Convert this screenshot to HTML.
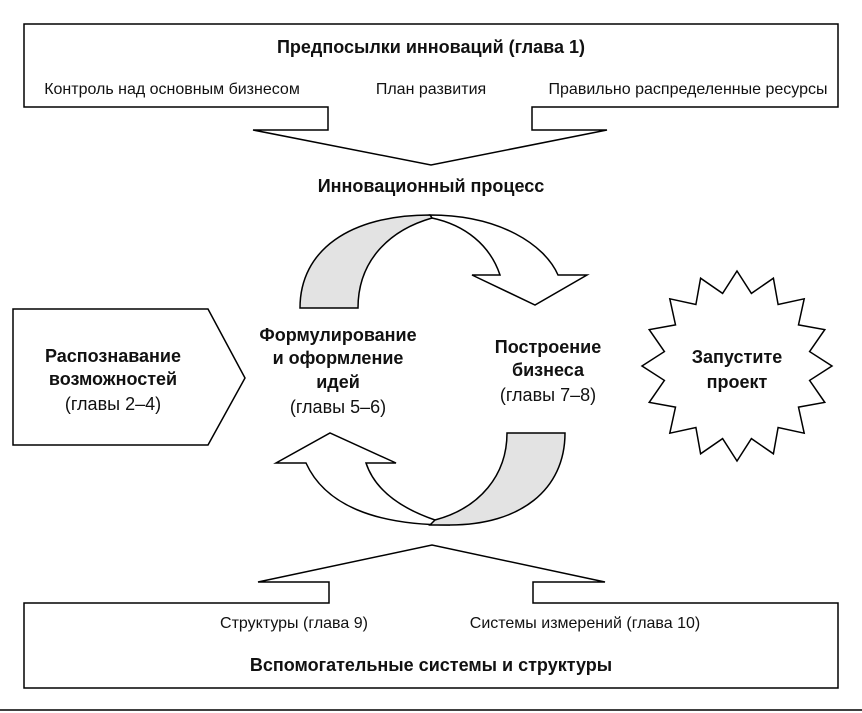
<!DOCTYPE html>
<html><head><meta charset="utf-8"><style>
html,body{margin:0;padding:0;background:#fff}
svg{display:block}
text{font-family:"Liberation Sans Narrow","Liberation Sans",sans-serif;fill:#111}
.b{font-weight:bold;font-size:18px}
.n{font-size:16px}
</style></head><body>
<svg id="s" width="862" height="713" viewBox="0 0 862 713" xmlns="http://www.w3.org/2000/svg">
<g fill="#fff" stroke="#000" stroke-width="1.5" stroke-linejoin="miter">
<path d="M24,24 H838 V107 H532 V130 H607 L431,165 L253,130 H328 V107 H24 Z"/>
<path d="M24,603 H329 V582 H258 L432,545 L605,582 H533 V603 H838 V688 H24 Z"/>
<path d="M13,309 H208 L245,378 L208,445 H13 Z"/>
<path d="M430,215 C500,215 545,245 558,275 H587 L535,305 L472,275 H500 C490,245 465,225 432,218 Z"/>
<path fill="#e3e3e3" d="M300,308 C300,250 350,215 430,215 L432,218 C390,230 358,260 358,308 Z"/>
<path d="M306,463 C325,505 375,525 450,525 L435,520 C400,508 375,490 366,463 H396 L330,433 L276,463 Z"/>
<path fill="#e3e3e3" d="M507,433 H565 C565,490 520,525 450,525 H430 L435,520 C480,508 507,475 507,433 Z"/>
<polygon id="star" points=""/>
</g>
<line x1="0" y1="710" x2="862" y2="710" stroke="#000" stroke-width="1.5"/>
<text class="b" x="431" y="53" text-anchor="middle">Предпосылки инноваций (глава 1)</text>
<text class="n" x="172" y="94" text-anchor="middle">Контроль над основным бизнесом</text>
<text class="n" x="431" y="94" text-anchor="middle">План развития</text>
<text class="n" x="688" y="94" text-anchor="middle">Правильно распределенные ресурсы</text>
<text class="b" x="431" y="192" text-anchor="middle">Инновационный процесс</text>
<text class="b" x="113" y="362" text-anchor="middle">Распознавание</text>
<text class="b" x="113" y="385" text-anchor="middle">возможностей</text>
<text class="n" x="113" y="410" text-anchor="middle" style="font-size:18px">(главы 2–4)</text>
<text class="b" x="338" y="341" text-anchor="middle">Формулирование</text>
<text class="b" x="338" y="364" text-anchor="middle">и оформление</text>
<text class="b" x="338" y="388" text-anchor="middle">идей</text>
<text class="n" x="338" y="413" text-anchor="middle" style="font-size:18px">(главы 5–6)</text>
<text class="b" x="548" y="353" text-anchor="middle">Построение</text>
<text class="b" x="548" y="376" text-anchor="middle">бизнеса</text>
<text class="n" x="548" y="401" text-anchor="middle" style="font-size:18px">(главы 7–8)</text>
<text class="b" x="737" y="363" text-anchor="middle">Запустите</text>
<text class="b" x="737" y="388" text-anchor="middle">проект</text>
<text class="n" x="294" y="628" text-anchor="middle">Структуры (глава 9)</text>
<text class="n" x="585" y="628" text-anchor="middle">Системы измерений (глава 10)</text>
<text class="b" x="431" y="671" text-anchor="middle">Вспомогательные системы и структуры</text>
</svg>
<script>
var p=[],cx=737,cy=366,R=95,r=74,n=16;
for(var i=0;i<2*n;i++){var a=-Math.PI/2+i*Math.PI/n,rr=i%2?r:R;p.push((cx+rr*Math.cos(a)).toFixed(1)+","+(cy+rr*Math.sin(a)).toFixed(1));}
document.getElementById("star").setAttribute("points",p.join(" "));
</script>
</body></html>
